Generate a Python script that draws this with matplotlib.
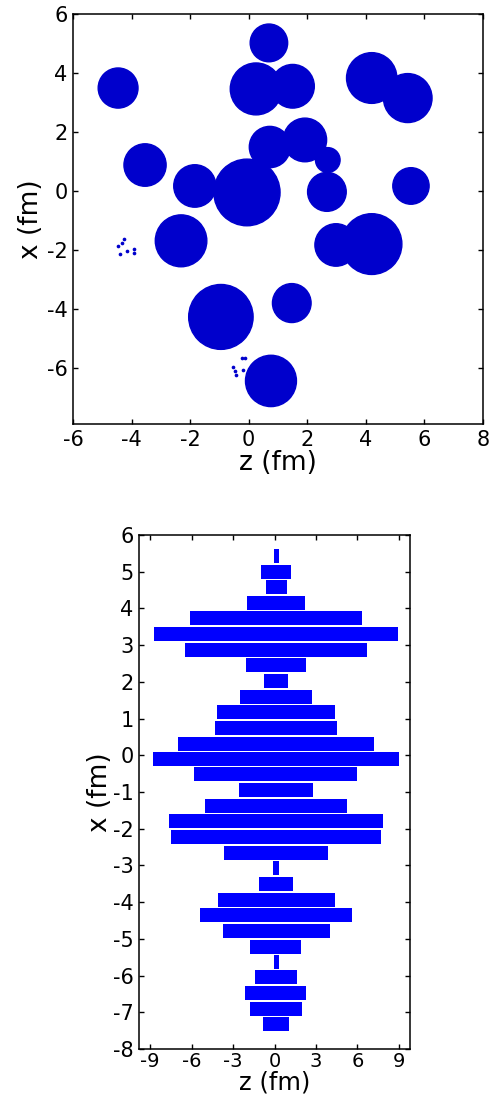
import matplotlib
matplotlib.use("Agg")
import matplotlib.pyplot as plt
from matplotlib.patches import Ellipse

plt.rcParams['font.family'] = ['DejaVu Sans']
plt.rcParams['axes.unicode_minus'] = False

# ---- top panel: nucleon clusters (z, x, radius in fm) ----
cluster_z = [-4.46, -3.54, -1.84, -0.06, 0.72, 1.92, 2.70, 2.67, 0.69, 0.25, 1.50,
             4.20, 5.43, 5.54, -2.31, 2.98, 4.20, -0.95, 1.47, 0.76]
cluster_x = [3.49, 0.88, 0.17, -0.05, 1.49, 1.73, 1.05, -0.03, 5.02, 3.46, 3.55,
             3.83, 3.15, 0.17, -1.69, -1.83, -1.80, -4.27, -3.80, -6.44]
cluster_r = [0.68, 0.72, 0.72, 1.13, 0.70, 0.74, 0.42, 0.66, 0.64, 0.88, 0.74,
             0.86, 0.83, 0.62, 0.88, 0.72, 1.03, 1.10, 0.66, 0.87]

stray_z = [-4.26, -4.34, -4.45, -4.39, -4.17, -3.91, -3.92,
           -0.24, -0.13, -0.53, -0.47, -0.42, -0.19]
stray_x = [-1.64, -1.77, -1.86, -2.15, -2.02, -1.97, -2.11,
           -5.65, -5.65, -5.96, -6.12, -6.24, -6.07]

# ---- bottom panel: projected slabs ----
slab_x = [5.42, 5.00, 4.58, 4.15, 3.73, 3.30, 2.87, 2.46, 2.03, 1.60, 1.18,
          0.75, 0.32, -0.10, -0.52, -0.95, -1.38, -1.80, -2.22, -2.65, -3.07,
          -3.50, -3.93, -4.35, -4.78, -5.21, -5.63, -6.05, -6.48, -6.90, -7.32]
slab_left = [-0.05, -0.99, -0.65, -2.02, -6.12, -8.73, -6.49, -2.08, -0.77, -2.46, -4.19,
             -4.32, -6.99, -8.80, -5.79, -2.58, -5.02, -7.64, -7.50, -3.67, -0.12,
             -1.11, -4.12, -5.40, -3.76, -1.74, -0.05, -1.40, -2.10, -1.79, -0.82]
slab_right = [0.29, 1.16, 0.87, 2.24, 6.33, 8.94, 6.70, 2.28, 0.96, 2.68, 4.41,
              4.53, 7.18, 9.01, 5.97, 2.75, 5.23, 7.83, 7.71, 3.85, 0.33,
              1.32, 4.34, 5.61, 3.98, 1.93, 0.31, 1.61, 2.31, 2.02, 1.03]

W, H = 499, 1099
fig = plt.figure(figsize=(W / 100, H / 100), dpi=100)

def style(ax):
    ax.tick_params(direction='in', top=True, right=True, length=3.5, width=1,
                   labelsize=15, pad=4)
    for s in ax.spines.values():
        s.set_linewidth(1.1)

# top axes
ax1 = fig.add_axes([73 / W, 1 - 424 / H, 410 / W, 410 / H])
for z, x, r in zip(cluster_z, cluster_x, cluster_r):
    ax1.add_patch(Ellipse((z, x), 2 * r, 2 * r, facecolor='#0000cc',
                          edgecolor='#0000cc', linewidth=1.0))
ax1.scatter(stray_z, stray_x, s=7, color='#0000cc', linewidths=0)
ax1.set_xlim(-6, 8)
ax1.set_ylim(-7.9, 6)
ax1.set_xticks([-6, -4, -2, 0, 2, 4, 6, 8])
ax1.set_yticks([-6, -4, -2, 0, 2, 4, 6])
ax1.set_xlabel('z (fm)', fontsize=19, labelpad=0)
ax1.set_ylabel('x (fm)', fontsize=19, labelpad=2)
style(ax1)

# bottom axes
ax2 = fig.add_axes([139 / W, 1 - 1049 / H, 271 / W, 514 / H])
widths = [r - l for l, r in zip(slab_left, slab_right)]
ax2.barh(slab_x, widths, left=slab_left, height=0.38, color='#0000ff',
         edgecolor='none')
ax2.set_xlim(-9.8, 9.8)
ax2.set_ylim(-8, 6)
ax2.set_xticks([-9, -6, -3, 0, 3, 6, 9])
ax2.set_yticks(list(range(-8, 7)))
style(ax2)
ax2.tick_params(axis='x', pad=2, labelsize=14)
ax2.set_xlabel('z (fm)', fontsize=17.5, labelpad=0)
ax2.set_ylabel('x (fm)', fontsize=19, labelpad=0)

fig.savefig('out.png', dpi=100)
